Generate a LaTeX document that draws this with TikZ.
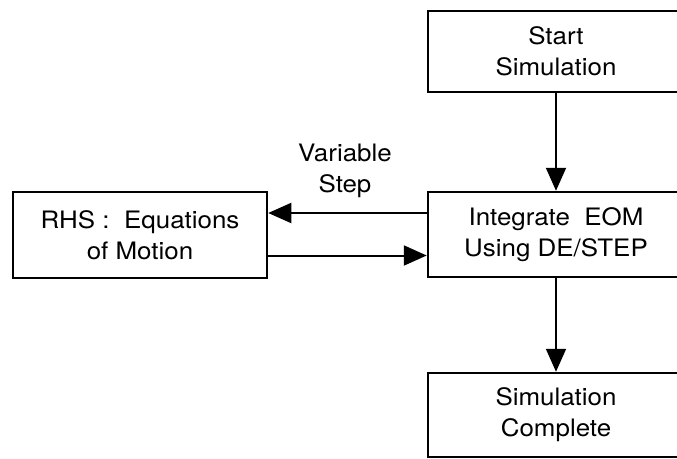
\documentclass[tikz,border=0pt]{standalone}
\usepackage{fontspec}
\setmainfont{TeX Gyre Heros}[FakeStretch=1.08]
\usetikzlibrary{arrows.meta}
\tikzset{
  flowbox/.style={draw=black, line width=2.5pt, rectangle, align=center,
    inner sep=0pt, font=\fontsize{24}{31}\selectfont},
  flowarrow/.style={line width=2pt, -{Triangle[length=23pt,width=20pt]}},
  caption/.style={align=center, inner sep=0pt, font=\fontsize{24}{31}\selectfont}
}
\begin{document}
\begin{tikzpicture}[x=1pt, y=-1pt]
  \useasboundingbox (0,0) rectangle (677,458);
  \clip (0,0) rectangle (677,458);
  % main column
  \node[flowbox, minimum width=256pt, minimum height=81pt] (start) at (556,51.5) {Start\\Simulation};
  \node[flowbox, minimum width=256pt, minimum height=85pt] (integ) at (556,234.5) {Integrate~~EOM\\Using DE/STEP};
  \node[flowbox, minimum width=256pt, minimum height=84pt] (done) at (556,415) {Simulation\\Complete};
  % right-hand-side evaluation
  \node[flowbox, minimum width=254pt, minimum height=86pt] (rhs) at (140,235) {RHS :~~Equations\\of Motion};
  \node[caption] (lbl) at (345,171) {Variable\\Step};
  % connectors
  \draw[flowarrow] (start) -- (integ);
  \draw[flowarrow] (integ) -- (done);
  \draw[flowarrow] ([yshift=21.5pt]integ.west) -- ([yshift=21.5pt]integ.west -| rhs.east);
  \draw[flowarrow] ([yshift=-20.5pt]rhs.east) -- ([yshift=-20.5pt]rhs.east -| integ.west);
\end{tikzpicture}
\end{document}
